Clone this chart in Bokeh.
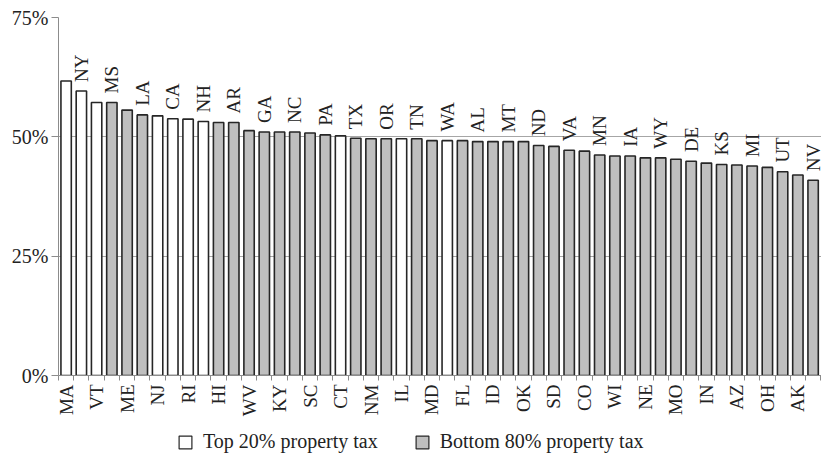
import math
from bokeh.plotting import figure
from bokeh.layouts import column
from bokeh.models import (ColumnDataSource, FixedTicker, Legend, LegendItem,
                          PrintfTickFormatter, Range1d)
from bokeh.core.properties import value
from bokeh.embed import file_html
from bokeh.resources import INLINE

states = ["MA", "NY", "VT", "MS", "ME", "LA", "NJ", "CA", "RI", "NH",
          "HI", "AR", "WV", "GA", "KY", "NC", "SC", "PA", "CT", "TX",
          "NM", "OR", "IL", "TN", "MD", "WA", "FL", "AL", "ID", "MT",
          "OK", "ND", "SD", "VA", "CO", "MN", "WI", "IA", "NE", "WY",
          "MO", "DE", "IN", "KS", "AZ", "MI", "OH", "UT", "AK", "NV"]
shares = [61.7, 59.6, 57.2, 57.2, 55.6, 54.6, 54.4, 53.8, 53.7, 53.2,
          53.0, 53.0, 51.3, 51.0, 51.0, 51.0, 50.8, 50.4, 50.2, 49.7,
          49.6, 49.6, 49.6, 49.6, 49.2, 49.2, 49.2, 49.0, 49.0, 49.0,
          49.0, 48.2, 48.0, 47.2, 47.0, 46.2, 46.0, 46.0, 45.6, 45.6,
          45.3, 44.9, 44.5, 44.2, 44.1, 43.9, 43.6, 42.7, 42.0, 40.9]
top20_states = ["MA", "NY", "VT", "NJ", "CA", "RI", "NH", "CT", "IL", "WA"]
y_ticks = [0, 25, 50, 75]
legend_labels = ["Top 20% property tax", "Bottom 80% property tax"]

FONT = "Liberation Serif"
FS = "19px"
WHITE = "white"
GRAY = "#bfbfbf"
EDGE = "#262626"

xs = list(range(len(states)))
top_src = ColumnDataSource(dict(
    x=[i for i in xs if states[i] in top20_states],
    y=[shares[i] for i in xs if states[i] in top20_states]))
bot_src = ColumnDataSource(dict(
    x=[i for i in xs if states[i] not in top20_states],
    y=[shares[i] for i in xs if states[i] not in top20_states]))
lab_src = ColumnDataSource(dict(
    x=[i for i in xs if i % 2 == 1],
    y=[shares[i] + 1.9 for i in xs if i % 2 == 1],
    t=[states[i] for i in xs if i % 2 == 1]))

main = figure(width=821, height=425, x_range=Range1d(-0.5, 49.55),
              y_range=Range1d(0, 75), output_backend="svg",
              toolbar_location=None, min_border_left=58, min_border_top=17,
              min_border_right=0, min_border_bottom=50)
main.outline_line_color = None

main.vbar(x="x", top="y", width=0.68, source=top_src,
          fill_color=WHITE, line_color=EDGE, line_width=1.6)
main.vbar(x="x", top="y", width=0.68, source=bot_src,
          fill_color=GRAY, line_color=EDGE, line_width=1.6)

main.text(x="x", y="y", text="t", source=lab_src, angle=math.pi / 2,
          text_align="left", text_baseline="middle",
          text_font=value(FONT), text_font_size=FS, text_color="#222222")

# x axis
xa = main.xaxis[0]
xa.ticker = FixedTicker(ticks=[i for i in xs if i % 2 == 0],
                        minor_ticks=[i - 0.5 for i in range(len(states) + 1)])
xa.major_label_overrides = {i: states[i] for i in xs if i % 2 == 0}
xa.major_label_orientation = math.pi / 2
xa.major_tick_out = 0
xa.major_tick_in = 0
xa.minor_tick_out = 5
xa.minor_tick_in = 0
xa.axis_line_color = "#8c8c8c"
xa.minor_tick_line_color = "#8c8c8c"
xa.major_label_text_font = FONT
xa.major_label_text_font_size = FS
xa.major_label_text_color = "#222222"
xa.major_label_standoff = 4

# y axis
ya = main.yaxis[0]
ya.ticker = FixedTicker(ticks=y_ticks)
ya.formatter = PrintfTickFormatter(format="%d%%")
ya.major_tick_out = 7
ya.major_tick_in = 0
ya.minor_tick_line_color = None
ya.axis_line_color = "#8c8c8c"
ya.major_tick_line_color = "#8c8c8c"
ya.major_label_text_font = FONT
ya.major_label_text_font_size = "20px"
ya.major_label_text_color = "#222222"
ya.major_label_standoff = 3

main.xgrid.grid_line_color = None
main.ygrid.ticker = FixedTicker(ticks=y_ticks)
main.ygrid.grid_line_color = "#a6a6a6"
main.ygrid.grid_line_width = 1

# legend strip: same series, with ranges far from the data so only keys show
leg = figure(width=821, height=33, output_backend="svg", toolbar_location=None,
             x_axis_type=None, y_axis_type=None, min_border=0,
             x_range=Range1d(5000, 5001), y_range=Range1d(5000, 5001))
leg.outline_line_color = None
leg.grid.visible = False
lr_top = leg.vbar(x="x", top="y", width=0.68, source=top_src,
                  fill_color=WHITE, line_color=EDGE, line_width=1.2)
lr_bot = leg.vbar(x="x", top="y", width=0.68, source=bot_src,
                  fill_color=GRAY, line_color=EDGE, line_width=1.2)
legend = Legend(items=[LegendItem(label=legend_labels[0], renderers=[lr_top]),
                       LegendItem(label=legend_labels[1], renderers=[lr_bot])],
                orientation="horizontal", location=(119, 5),
                border_line_color=None, background_fill_alpha=0,
                label_text_font=FONT, label_text_font_size="20px",
                label_text_color="#222222",
                glyph_width=16, glyph_height=16, label_standoff=10,
                spacing=36, padding=0, margin=0)
leg.add_layout(legend)

p = column(main, leg, spacing=0)

open("out.html", "w").write(file_html(p, INLINE))
